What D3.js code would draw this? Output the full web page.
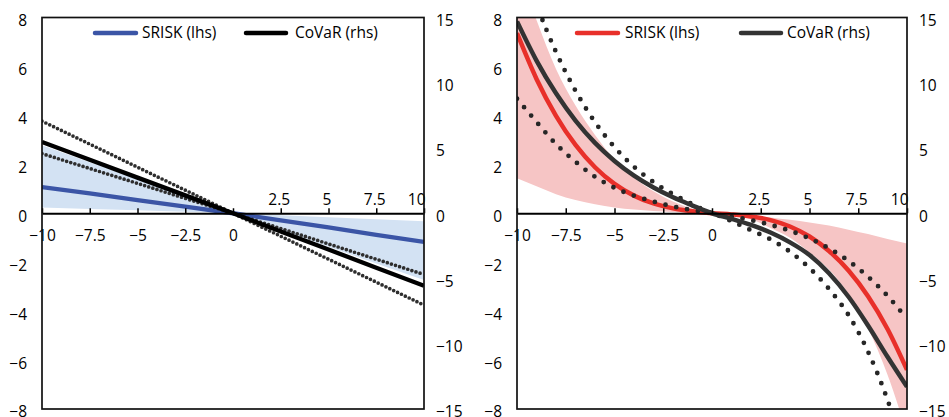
<!DOCTYPE html>
<html>
<head>
<meta charset="utf-8">
<script src="https://cdn.jsdelivr.net/npm/d3@7"></script>
<style>
  body { margin: 0; background: #fff; }
  svg { display: block; font-family: "Open Sans", sans-serif; }
</style>
</head>
<body>
<div id="chart"></div>
<script>
// ticks and labels
const xTicks = [-10, -7.5, -5, -2.5, 0, 2.5, 5, 7.5, 10];
const lhsTicks = [-8, -6, -4, -2, 0, 2, 4, 6, 8];
const rhsTicks = [-15, -10, -5, 0, 5, 10, 15];
const legendNames = ["SRISK (lhs)", "CoVaR (rhs)"];

// left panel (linear)
const leftX = [-10, -7.5, -5, -2.5, 0, 2.5, 5, 7.5, 10];
const leftSrisk = [1.07, 0.81, 0.54, 0.27, 0, -0.29, -0.58, -0.88, -1.17];
const leftSriskHi = [2.78, 2.08, 1.39, 0.69, 0, -0.08, -0.16, -0.25, -0.33];
const leftSriskLo = [0.23, 0.17, 0.12, 0.06, 0, -0.68, -1.37, -2.05, -2.73];
const leftCovar = [5.46, 4.1, 2.73, 1.37, 0, -1.39, -2.78, -4.17, -5.56];
const leftCovarHi = [7.06, 5.3, 3.53, 1.77, 0, -1.17, -2.35, -3.52, -4.69];
const leftCovarLo = [4.57, 3.43, 2.29, 1.14, 0, -1.76, -3.52, -5.28, -7.04];

// right panel (non-linear)
const rightX = [-10, -9, -8, -7, -6, -5, -4, -3, -2, -1, 0, 1, 2, 3, 4, 5, 6, 7, 8, 9, 10];
const rightSrisk = [7.36, 5.49, 3.98, 2.79, 1.88, 1.2, 0.72, 0.4, 0.2, 0.08, 0, -0.05, -0.13, -0.28, -0.54, -0.95, -1.54, -2.34, -3.39, -4.73, -6.4];
const rightSriskHi = [10.2, 7.9, 5.9, 4.4, 3.2, 2.2, 1.45, 0.9, 0.48, 0.18, 0, -0.04, -0.1, -0.17, -0.27, -0.38, -0.5, -0.67, -0.85, -1.05, -1.24];
const rightSriskLo = [1.43, 1.1, 0.78, 0.54, 0.37, 0.24, 0.15, 0.09, 0.05, 0.02, 0, -0.06, -0.25, -0.6, -1.0, -1.6, -2.3, -3.3, -4.7, -6.6, -9.0];
const rightCovar = [14.7, 11.7, 9.19, 7.1, 5.39, 4.01, 2.88, 1.97, 1.22, 0.59, 0, -0.42, -0.89, -1.48, -2.23, -3.2, -4.6, -6.4, -8.6, -11.0, -13.3];
const rightCovarHi = [20.4, 16.0, 12.36, 9.39, 6.98, 5.07, 3.56, 2.39, 1.46, 0.69, 0, -0.25, -0.53, -0.89, -1.34, -1.93, -2.69, -3.65, -4.86, -6.33, -8.11];
const rightCovarLo = [8.78, 7.0, 5.3, 3.95, 2.8, 1.95, 1.35, 0.9, 0.52, 0.24, 0, -0.6, -1.3, -2.0, -2.95, -4.2, -5.8, -7.8, -10.6, -14.3, -19.0];

const W = 949, H = 417;
const plotTop = 17.5, plotBottom = 409;
const fontSize = 15.5;

const svg = d3.select("#chart").append("svg")
    .attr("width", W)
    .attr("height", H);

let minus = d => String(d).replace("-", "\u2212");

let drawPanel = (p) => {
    const x = d3.scaleLinear().domain([-10, 10]).range([p.left, p.right]);
    const yL = d3.scaleLinear().domain([-8, 8]).range([plotBottom, plotTop]);
    const yR = d3.scaleLinear().domain([-15, 15]).range([plotBottom, plotTop]);
    const g = svg.append("g");

    g.append("clipPath").attr("id", "clip" + p.id)
      .append("rect")
        .attr("x", p.left).attr("y", plotTop)
        .attr("width", p.right - p.left).attr("height", plotBottom - plotTop);

    const plot = g.append("g").attr("clip-path", `url(#clip${p.id})`);

    const rows = p.xs.map((v, i) => ({
        x: v, s: p.srisk[i], hi: p.sriskHi[i], lo: p.sriskLo[i],
        c: p.covar[i], ch: p.covarHi[i], cl: p.covarLo[i]
    }));

    // confidence band for SRISK
    plot.append("path").datum(rows)
        .attr("fill", p.bandColor)
        .attr("d", d3.area().curve(p.curve)
            .x(d => x(d.x)).y0(d => yL(d.lo)).y1(d => yL(d.hi)));

    // SRISK line
    plot.append("path").datum(rows)
        .attr("fill", "none")
        .attr("stroke", p.sriskColor)
        .attr("stroke-width", p.lineWidth)
        .attr("d", d3.line().curve(p.curve).x(d => x(d.x)).y(d => yL(d.s)));

    // CoVaR bounds (dotted)
    for (let key of ["ch", "cl"]) {
        plot.append("path").datum(rows)
            .attr("fill", "none")
            .attr("stroke", p.dotColor)
            .attr("stroke-width", p.dotWidth)
            .attr("stroke-linecap", "round")
            .attr("stroke-dasharray", p.dotDash)
            .attr("d", d3.line().curve(p.curve).x(d => x(d.x)).y(d => yR(d[key])));
    }

    // CoVaR line
    plot.append("path").datum(rows)
        .attr("fill", "none")
        .attr("stroke", p.covarColor)
        .attr("stroke-width", p.lineWidth)
        .attr("d", d3.line().curve(p.curve).x(d => x(d.x)).y(d => yR(d.c)));

    // x axis on the zero line
    const xAxis = g.append("g")
        .attr("transform", `translate(0,${yL(0)})`)
        .call(d3.axisTop(x).tickValues(xTicks).tickSize(5).tickSizeOuter(0).tickFormat(minus));
    xAxis.select(".domain").attr("stroke", "#000").attr("stroke-width", 2);
    xAxis.selectAll(".tick line").attr("stroke", "#000").attr("stroke-width", 1.5);
    xAxis.selectAll(".tick text")
        .attr("font-family", "Open Sans")
        .attr("font-size", fontSize)
        .attr("fill", "#000")
        .attr("dy", 0)
        .attr("y", d => d > 0 ? -8 : 28)
        .attr("text-anchor", d => d === 10 ? "end" : "middle")
        .attr("x", d => d === 10 ? 1 : (d > 0 ? -2 : 0));

    // left axis
    const lAxis = g.append("g")
        .attr("transform", `translate(${p.left},0)`)
        .call(d3.axisLeft(yL).tickValues(lhsTicks).tickSize(0).tickPadding(15).tickFormat(minus));
    lAxis.select(".domain").remove();
    lAxis.selectAll(".tick text")
        .attr("font-family", "Open Sans").attr("font-size", fontSize).attr("fill", "#000")
        .attr("y", 3);

    // right axis
    const rAxis = g.append("g")
        .attr("transform", `translate(${p.right},0)`)
        .call(d3.axisRight(yR).tickValues(rhsTicks).tickSize(0).tickPadding(12).tickFormat(minus));
    rAxis.select(".domain").remove();
    rAxis.selectAll(".tick text")
        .attr("font-family", "Open Sans").attr("font-size", fontSize).attr("fill", "#000")
        .attr("y", 3);

    // frame
    g.append("rect")
        .attr("x", p.left).attr("y", plotTop)
        .attr("width", p.right - p.left).attr("height", plotBottom - plotTop)
        .attr("fill", "none")
        .attr("stroke", "#111")
        .attr("stroke-width", 1.7);

    // legend
    const colors = [p.sriskColor, p.covarColor];
    p.legend.forEach((l, i) => {
        g.append("line")
            .attr("x1", l.x1).attr("x2", l.x2)
            .attr("y1", 33).attr("y2", 33)
            .attr("stroke", colors[i])
            .attr("stroke-width", 4.5)
            .attr("stroke-linecap", "round");
        g.append("text")
            .attr("x", l.tx).attr("y", 33)
            .attr("dy", "0.35em")
            .attr("font-size", fontSize)
            .attr("fill", "#000")
            .text(legendNames[i]);
    });
};

drawPanel({
    id: "L", left: 42, right: 424,
    xs: leftX, srisk: leftSrisk, sriskHi: leftSriskHi, sriskLo: leftSriskLo,
    covar: leftCovar, covarHi: leftCovarHi, covarLo: leftCovarLo,
    curve: d3.curveLinear,
    bandColor: "#d3e2f3", sriskColor: "#3b55a6", covarColor: "#000",
    dotColor: "#2e2e2e", dotWidth: 3.7, dotDash: "0 4.3", lineWidth: 4.3,
    legend: [{x1: 95, x2: 136, tx: 142}, {x1: 246, x2: 286, tx: 295}]
});

drawPanel({
    id: "R", left: 517, right: 907,
    xs: rightX, srisk: rightSrisk, sriskHi: rightSriskHi, sriskLo: rightSriskLo,
    covar: rightCovar, covarHi: rightCovarHi, covarLo: rightCovarLo,
    curve: d3.curveMonotoneX,
    bandColor: "#f6c5c5", sriskColor: "#e8302a", covarColor: "#333",
    dotColor: "#262626", dotWidth: 4.8, dotDash: "0 11", lineWidth: 4.5,
    legend: [{x1: 577, x2: 618, tx: 625}, {x1: 741, x2: 781, tx: 787}]
});
</script>
</body>
</html>
